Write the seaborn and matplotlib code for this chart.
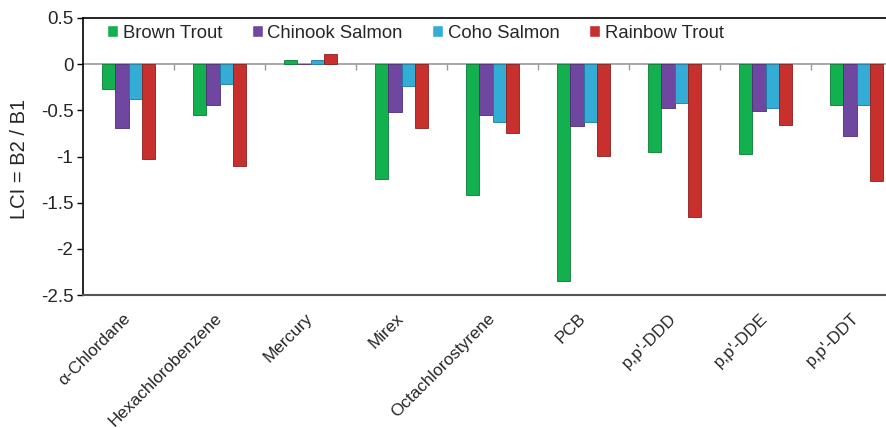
import pandas as pd
import seaborn as sns
import matplotlib.pyplot as plt
import numpy as np

# =========================================================
# DATA
# =========================================================
COMPOUNDS = [
    "\u03b1-Chlordane", "Hexachlorobenzene", "Mercury", "Mirex",
    "Octachlorostyrene", "PCB", "p,p'-DDD", "p,p'-DDE", "p,p'-DDT",
]
SPECIES = ["Brown Trout", "Chinook Salmon", "Coho Salmon", "Rainbow Trout"]

BROWN_TROUT = [-0.27, -0.55, 0.04, -1.24, -1.42, -2.35, -0.95, -0.97, -0.44]
CHINOOK_SALMON = [-0.69, -0.44, 0.0, -0.52, -0.55, -0.67, -0.47, -0.51, -0.78]
COHO_SALMON = [-0.38, -0.22, 0.05, -0.24, -0.63, -0.63, -0.42, -0.47, -0.44]
RAINBOW_TROUT = [-1.03, -1.10, 0.11, -0.69, -0.75, -0.99, -1.65, -0.66, -1.27]

Y_TICKS = [0.5, 0, -0.5, -1, -1.5, -2, -2.5]
Y_TICK_LABELS = ["0.5", "0", "-0.5", "-1", "-1.5", "-2", "-2.5"]

COLORS = ["#13b04f", "#6f47a0", "#33acd6", "#c7302d"]
EDGES = ["#0b7a35", "#4b2e70", "#1f7a9c", "#8a1f1d"]

# =========================================================
# LONG TABLE
# =========================================================
df = pd.DataFrame({
    "compound": COMPOUNDS * 4,
    "species": np.repeat(SPECIES, len(COMPOUNDS)),
    "lci": BROWN_TROUT + CHINOOK_SALMON + COHO_SALMON + RAINBOW_TROUT,
})

# =========================================================
# FIGURE
# =========================================================
sns.set_style("white")
plt.rcParams["font.family"] = ["Liberation Sans", "DejaVu Sans"]

fig = plt.figure(figsize=(8.86, 4.28), dpi=100)
ax = fig.add_axes([83 / 886, 133 / 428, 819 / 886, 277 / 428])

sns.barplot(
    data=df, x="compound", y="lci", hue="species",
    order=COMPOUNDS, hue_order=SPECIES, palette=COLORS,
    width=0.575, errorbar=None, ax=ax, saturation=1,
)

for cont, ec in zip(ax.containers, EDGES):
    for bar in cont:
        bar.set_edgecolor(ec)
        bar.set_linewidth(0.6)

ax.set_xlim(-0.5, len(COMPOUNDS) - 0.5)
ax.set_ylim(-2.5, 0.5)
ax.set_yticks(Y_TICKS)
ax.set_yticklabels(Y_TICK_LABELS, fontsize=13.5)
ax.tick_params(axis="y", direction="out", length=4, width=1, color="black", left=True, pad=3)
ax.tick_params(axis="x", length=0, pad=15)
ax.set_xticks(range(len(COMPOUNDS)))
ax.set_xticklabels(COMPOUNDS, rotation=45, ha="right", va="center",
                   rotation_mode="anchor", fontsize=12.3)
ax.set_xlabel("")
ax.set_ylabel("LCI = B2 / B1", fontsize=14.5)
ax.yaxis.set_label_coords((29 - 83) / 819, 0.493)

for side in ["left", "top", "right"]:
    ax.spines[side].set_color("black")
    ax.spines[side].set_linewidth(1.2)
ax.spines["bottom"].set_color("#555555")
ax.spines["bottom"].set_linewidth(1.5)

# category axis line at zero with boundary tick marks
ax.axhline(0, color="#9a9a9a", linewidth=1.2, zorder=0.5)
sec = ax.secondary_xaxis(2.5 / 3.0)
sec.set_xticks(np.arange(len(COMPOUNDS) - 1) + 0.5)
sec.set_xticklabels([])
sec.tick_params(direction="in", length=4, width=1, color="#9a9a9a")
for s in sec.spines.values():
    s.set_visible(False)

leg = ax.legend(
    loc="center left", bbox_to_anchor=((107 - 83) / 819, (295 - 33) / 277),
    ncol=4, frameon=False, fontsize=13.3, borderpad=0, borderaxespad=0,
    handlelength=0.6, handleheight=0.6, handletextpad=0.25, columnspacing=1.6,
)

plt.savefig("out.png", dpi=100)
